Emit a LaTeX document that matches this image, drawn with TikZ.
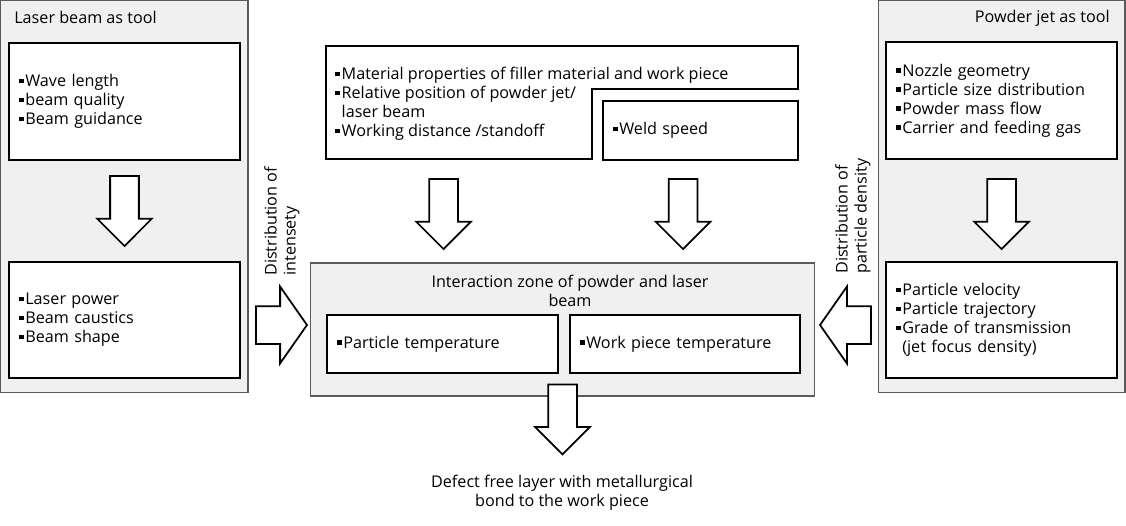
\documentclass[tikz,border=0pt]{standalone}
\usepackage{fontspec}
\setmainfont{Open Sans}
\usetikzlibrary{shapes.arrows,calc}

\definecolor{panelgray}{RGB}{240,240,240}
\definecolor{panelline}{RGB}{90,90,90}
\newcommand{\bul}{\rule[2pt]{2.6pt}{2.6pt}\hspace{1pt}}
\newcommand{\ind}{\phantom{\bul}}

\tikzstyle{panel} = [draw=panelline, fill=panelgray, line width=0.6pt, inner sep=0pt]
\tikzstyle{itembox} = [draw, fill=white, line width=1.3pt, align=left, inner xsep=0.2cm, inner ysep=0pt]
\tikzstyle{downarrow} = [single arrow, draw, fill=white, line width=1pt, inner xsep=0pt, inner ysep=0.27cm,
	minimum height=1.4cm, single arrow head extend=0.26cm,
	single arrow tip angle=90, rotate=-90, anchor=west]
\tikzstyle{sidearrow} = [single arrow, draw, fill=white, line width=1pt, inner xsep=0pt, inner ysep=0.36cm,
	minimum height=1.02cm, single arrow head extend=0.39cm,
	single arrow tip angle=110, anchor=west]
\tikzstyle{headtext} = [inner sep=0pt]

\begin{document}
\begin{tikzpicture}[x=0.02cm, y=-0.02cm, font=\fontsize{9.2}{10.8}\selectfont]
\useasboundingbox (0,0) rectangle (1126,525);

% grey backgrounds
\node [panel, minimum width=4.96cm, minimum height=7.86cm] (laserpanel) at (124,196.5) {};
\node [panel, minimum width=4.94cm, minimum height=7.86cm] (powderpanel) at (1001.5,196.5) {};
\node [panel, minimum width=10.1cm, minimum height=2.66cm] (zone) at (562.5,329.5) {};
\node [headtext, anchor=base west] (lasertitle) at (14,23) {Laser beam as tool};
\node [headtext, anchor=base east] (powdertitle) at (1110,22) {Powder jet as tool};
\node [headtext, align=center] (zonetitle) at (570,291) {Interaction zone of powder and laser\\beam};

% laser beam
\node [itembox, text width=4.22cm, minimum height=2.34cm] (wave) at (124.5,101.5)
	{\bul Wave length\\\bul beam quality\\\bul Beam guidance};
\node [itembox, text width=4.22cm, minimum height=2.32cm] (power) at (124.5,320)
	{\bul Laser power\\\bul Beam caustics\\\bul Beam shape};

% powder jet
\node [itembox, text width=4.22cm, minimum height=2.34cm] (nozzle) at (1001.5,100.5)
	{\bul Nozzle geometry\\\bul Particle size distribution\\\bul Powder mass flow\\\bul Carrier and feeding gas};
\node [itembox, text width=4.22cm, minimum height=2.32cm] (velocity) at (1001.5,320)
	{\bul Particle velocity\\\bul Particle trajectory\\\bul Grade of transmission\\\ind(jet focus density)};

% process parameters
\draw [line width=1.3pt] (326,46) -- (798,46) -- (798,89) -- (592,89) -- (592,159) -- (326,159) -- cycle;
\node [headtext, align=left, anchor=west] (props) at (335,104)
	{\bul Material properties of filler material and work piece\\\bul Relative position of powder jet/\\\ind laser beam\\\bul Working distance /standoff};
\node [itembox, text width=3.5cm, minimum height=1.18cm] (weld) at (700.5,130.5) {\bul Weld speed};

% interaction zone
\node [itembox, text width=4.22cm, minimum height=1.16cm] (ptemp) at (442.5,344) {\bul Particle temperature};
\node [itembox, text width=4.2cm, minimum height=1.16cm] (wtemp) at (685,344) {\bul Work piece temperature};

% block arrows (anchored at their tails)
\node [downarrow] (wavearrow) at ($(wave.south)+(0,14)$) {};
\node [downarrow] (propsarrow) at ($(ptemp.north |- weld.south)+(1,17)$) {};
\node [downarrow] (weldarrow) at ($(wtemp.north |- weld.south)+(-2,17)$) {};
\node [downarrow] (nozzlearrow) at ($(nozzle.south)+(0,18)$) {};
\node [downarrow] (zonearrow) at ($(zone.south)+(0,-13)$) {};
\node [sidearrow] (laserarrow) at ($(power.east)+(14,5)$) {};
\node [sidearrow, rotate=180] (powderarrow) at ($(velocity.west)+(-13,5)$) {};

\node [headtext, align=left, rotate=90, anchor=north west] (intens) at (264,276) {Distribution of\\intensety};
\node [headtext, align=left, rotate=90, anchor=north west] (density) at (835,274) {Distribution of\\particle density};

\node [headtext, align=center] (result) at (562,493) {Defect free layer with metallurgical\\bond to the work piece};
\end{tikzpicture}
\end{document}
